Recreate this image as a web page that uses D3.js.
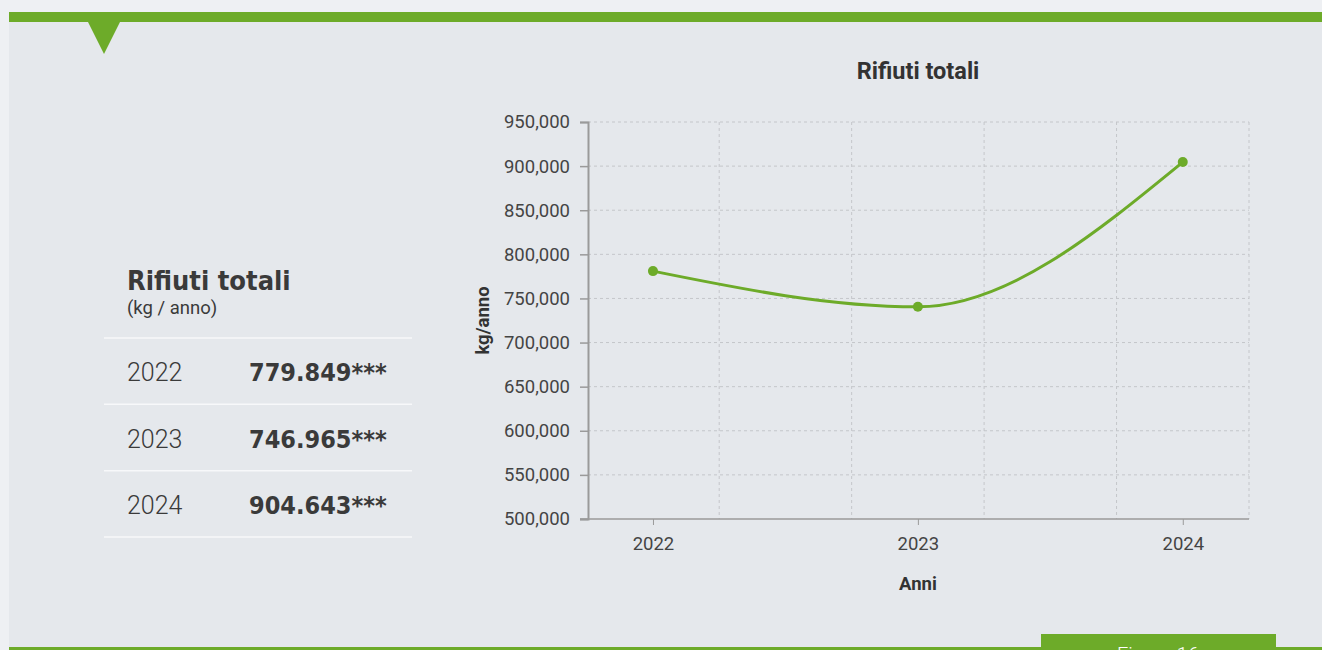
<!DOCTYPE html>
<html>
<head>
<meta charset="utf-8">
<script src="https://cdn.jsdelivr.net/npm/d3@7"></script>
<style>
  html, body { margin: 0; padding: 0; background: #eef0f3; }
  svg { display: block; }
</style>
</head>
<body>
<script>
// Dati
const years = [2022, 2023, 2024];
const chartValues = [781000, 740500, 904600];
const tableValues = ["779.849***", "746.965***", "904.643***"];
const yTicks = [500000, 550000, 600000, 650000, 700000, 750000, 800000, 850000, 900000, 950000];
const xGrid = [2022.25, 2022.75, 2023.25, 2023.75, 2024.25];

const W = 1322, H = 650;
const green = "#6dab29";

const svg = d3.select("body").append("svg")
  .attr("width", W)
  .attr("height", H);

// Pannello
svg.append("rect")
  .attr("x", 9).attr("y", 12)
  .attr("width", W - 9).attr("height", H - 12)
  .attr("fill", "#e5e8ec");

svg.append("rect")
  .attr("x", 9).attr("y", 12)
  .attr("width", W - 9).attr("height", 10)
  .attr("fill", green);

svg.append("path")
  .attr("d", "M88,22 L120,22 L104,54 Z")
  .attr("fill", green);

// Fondo pagina
svg.append("rect")
  .attr("x", 9).attr("y", 647)
  .attr("width", W - 9).attr("height", 3)
  .attr("fill", green);

svg.append("rect")
  .attr("x", 1041).attr("y", 634)
  .attr("width", 235).attr("height", 16)
  .attr("fill", green);

svg.append("text")
  .attr("x", 1158).attr("y", 662)
  .attr("text-anchor", "middle")
  .attr("font-family", "Roboto")
  .attr("font-weight", 300)
  .attr("font-size", 20)
  .attr("fill", "#fff")
  .text("Figura 16");

// Tabella a sinistra
const tbl = svg.append("g");

tbl.append("text")
  .attr("x", 127).attr("y", 290)
  .attr("font-family", "DejaVu Sans Condensed, DejaVu Sans")
  .attr("font-weight", "bold")
  .attr("font-size", 27)
  .attr("fill", "#3a3a3a")
  .text("Rifiuti totali");

tbl.append("text")
  .attr("x", 127).attr("y", 314)
  .attr("font-family", "Roboto")
  .attr("font-size", 18.5)
  .attr("fill", "#3a3a3a")
  .text("(kg / anno)");

const rowY = d3.scaleBand().domain(years).range([338, 537]);

tbl.selectAll("line.sep")
  .data([338, ...years.map(y => rowY(y) + rowY.bandwidth())])
  .join("line")
  .attr("class", "sep")
  .attr("x1", 104).attr("x2", 412)
  .attr("y1", d => d).attr("y2", d => d)
  .attr("stroke", "#f7f8fa")
  .attr("stroke-width", 1.5);

tbl.selectAll("text.yr")
  .data(years)
  .join("text")
  .attr("class", "yr")
  .attr("x", 127)
  .attr("y", d => rowY(d) + rowY.bandwidth() / 2 + 10)
  .attr("font-family", "Roboto")
  .attr("font-weight", 300)
  .attr("font-size", 25)
  .attr("fill", "#3a3a3a")
  .text(d => d);

tbl.selectAll("text.val")
  .data(tableValues)
  .join("text")
  .attr("class", "val")
  .attr("x", 249)
  .attr("y", (d, i) => rowY(years[i]) + rowY.bandwidth() / 2 + 10)
  .attr("font-family", "DejaVu Sans Condensed, DejaVu Sans")
  .attr("font-weight", "bold")
  .attr("font-size", 25)
  .attr("fill", "#3a3a3a")
  .text(d => d);

// Grafico
const pLeft = 588, pRight = 1249, pTop = 122, pBottom = 519;

const x = d3.scaleLinear()
  .domain([2022 - 65 / 265, 2024.25])
  .range([pLeft, pRight]);

const y = d3.scaleLinear()
  .domain([500000, 950000])
  .range([pBottom, pTop]);

const chart = svg.append("g").attr("font-family", "Roboto");

// griglia
chart.append("g")
  .selectAll("line")
  .data(yTicks.slice(1))
  .join("line")
  .attr("x1", pLeft).attr("x2", pRight)
  .attr("y1", d => y(d)).attr("y2", d => y(d))
  .attr("stroke", "#c4c6ca")
  .attr("stroke-dasharray", "3,3");

chart.append("g")
  .selectAll("line")
  .data(xGrid)
  .join("line")
  .attr("x1", d => x(d)).attr("x2", d => x(d))
  .attr("y1", pTop).attr("y2", pBottom)
  .attr("stroke", "#c4c6ca")
  .attr("stroke-dasharray", "3,3");

// asse y
const yAxis = chart.append("g")
  .attr("transform", `translate(${pLeft},0)`)
  .call(d3.axisLeft(y)
    .tickValues(yTicks)
    .tickSize(8)
    .tickPadding(10)
    .tickFormat(d3.format(",")));

yAxis.select(".domain").attr("stroke", "#9a9a9a").attr("stroke-width", 2);
yAxis.selectAll(".tick line").attr("stroke", "#9a9a9a").attr("stroke-width", 1.5);
yAxis.selectAll(".tick text")
  .attr("font-size", 18.5)
  .attr("font-family", "Roboto")
  .attr("fill", "#444");

// asse x
const xAxis = chart.append("g")
  .attr("transform", `translate(0,${pBottom})`)
  .call(d3.axisBottom(x)
    .tickValues(years)
    .tickSize(6)
    .tickPadding(12)
    .tickFormat(d3.format("d")));

xAxis.select(".domain")
  .attr("d", `M${pLeft - 8},0H${pRight}`)
  .attr("stroke", "#9a9a9a")
  .attr("stroke-width", 1.5);
xAxis.selectAll(".tick line").attr("stroke", "#9a9a9a");
xAxis.selectAll(".tick text")
  .attr("font-size", 18.5)
  .attr("font-family", "Roboto")
  .attr("fill", "#444");

// titoli
chart.append("text")
  .attr("x", 918).attr("y", 79)
  .attr("text-anchor", "middle")
  .attr("font-size", 23.5)
  .attr("font-weight", "bold")
  .attr("fill", "#333")
  .text("Rifiuti totali");

chart.append("text")
  .attr("x", 918).attr("y", 590)
  .attr("text-anchor", "middle")
  .attr("font-size", 18.5)
  .attr("font-weight", "bold")
  .attr("fill", "#333")
  .text("Anni");

chart.append("text")
  .attr("transform", `translate(489,${(pTop + pBottom) / 2}) rotate(-90)`)
  .attr("text-anchor", "middle")
  .attr("font-size", 18.5)
  .attr("font-weight", "bold")
  .attr("fill", "#333")
  .text("kg/anno");

// linea
const pts = years.map((d, i) => [d, chartValues[i]]);

chart.append("path")
  .datum(pts)
  .attr("fill", "none")
  .attr("stroke", green)
  .attr("stroke-width", 3)
  .attr("d", d3.line()
    .x(d => x(d[0]))
    .y(d => y(d[1]))
    .curve(d3.curveMonotoneX));

chart.append("g")
  .selectAll("circle")
  .data(pts)
  .join("circle")
  .attr("cx", d => x(d[0]))
  .attr("cy", d => y(d[1]))
  .attr("r", 5)
  .attr("fill", green);
</script>
</body>
</html>
